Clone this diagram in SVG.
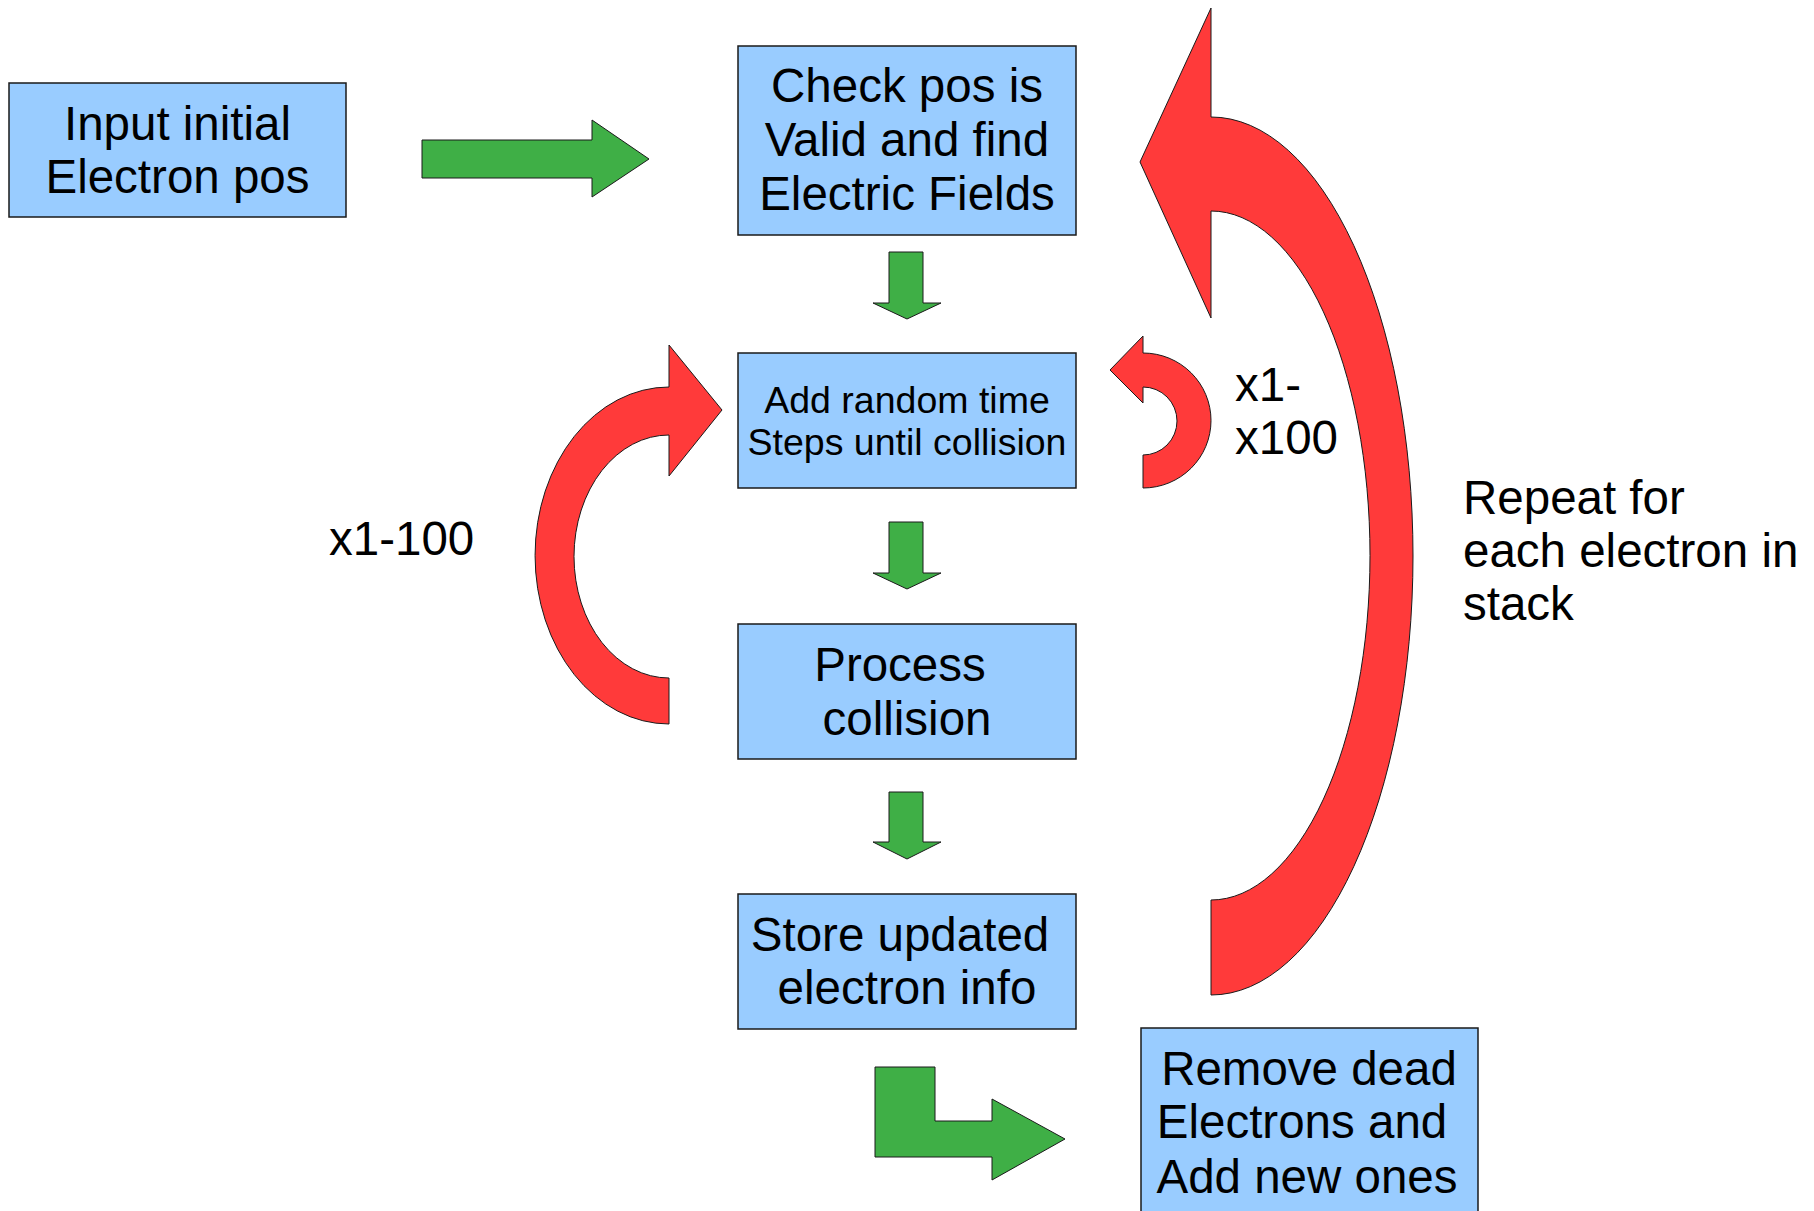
<svg xmlns="http://www.w3.org/2000/svg" width="1814" height="1211" viewBox="0 0 1814 1211">
  <style>
    .box { fill: #99ccff; stroke: #1a1a1a; stroke-width: 1.5; }
    .go { fill: #3faf46; stroke: #1a1a1a; stroke-width: 1; stroke-linejoin: miter; }
    .loop { fill: #ff3a3a; stroke: #1a1a1a; stroke-width: 1; }
    text { font-family: "Liberation Sans", Arial, sans-serif; fill: #000; }
    .big { font-size: 47.5px; }
    .mid { font-size: 37.5px; }
    .c { text-anchor: middle; }
  </style>

  <rect width="1814" height="1211" fill="#ffffff"/>

  <!-- connectors: flow arrows and loop arrows -->
  <g id="connectors">
    <path class="go" d="M422,140 L592,140 L592,120 L649,159 L592,197 L592,178 L422,178 Z"/>
    <path class="go" d="M889,252 L923,252 L923,303 L941,303 L907,319 L873,303 L889,303 Z"/>
    <path class="go" d="M889,522 L923,522 L923,573 L941,573 L907,589 L873,573 L889,573 Z"/>
    <path class="go" d="M889,792 L923,792 L923,842 L941,842 L907,859 L873,842 L889,842 Z"/>
    <path class="go" d="M875,1067 L935,1067 L935,1121 L992,1121 L992,1099 L1065,1139 L992,1180 L992,1157 L875,1157 Z"/>

    <!-- collision loop -->
    <path class="loop" d="M669,345 L722,410 L669,476 L669,435 A95 121.5 0 0 0 669,678 L669,724 A134 168.5 0 0 1 669,387 Z"/>
    <!-- time-step loop -->
    <path class="loop" d="M1143,336 L1143,353 A68 67.5 0 0 1 1143,488 L1143,455 A34 34 0 0 0 1143,387 L1143,403 L1110,370 Z"/>
    <!-- per-electron loop -->
    <path class="loop" d="M1211,8 L1211,117 A202 439 0 0 1 1211,995 L1211,900 A159 344.5 0 0 0 1211,211 L1211,318 L1140,162 Z"/>
  </g>

  <g id="input">
    <rect class="box" x="9" y="83" width="337" height="134"/>
    <text class="big c" x="177.5" y="140">Input initial</text>
    <text class="big c" x="177.5" y="193">Electron pos</text>
  </g>

  <g id="check">
    <rect class="box" x="738" y="46" width="338" height="189"/>
    <text class="big c" x="907" y="102">Check pos is</text>
    <text class="big c" x="907" y="156">Valid and find</text>
    <text class="big c" x="907" y="210">Electric Fields</text>
  </g>

  <g id="timestep">
    <rect class="box" x="738" y="353" width="338" height="135"/>
    <text class="mid c" x="907" y="413">Add random time</text>
    <text class="mid c" x="907" y="455">Steps until collision</text>
  </g>

  <g id="collision">
    <rect class="box" x="738" y="624" width="338" height="135"/>
    <text class="big c" x="900" y="681">Process</text>
    <text class="big c" x="907" y="735">collision</text>
  </g>

  <g id="store">
    <rect class="box" x="738" y="894" width="338" height="135"/>
    <text class="big c" x="900" y="951">Store updated</text>
    <text class="big c" x="907" y="1004">electron info</text>
  </g>

  <g id="cleanup">
    <rect class="box" x="1141" y="1028" width="337" height="190"/>
    <text class="big c" x="1309" y="1085">Remove dead</text>
    <text class="big c" x="1302" y="1138">Electrons and</text>
    <text class="big c" x="1307" y="1193">Add new ones</text>
  </g>

  <g id="labels">
    <text class="big" x="329" y="555">x1-100</text>
    <text class="big" x="1235" y="401">x1-</text>
    <text class="big" x="1235" y="454">x100</text>
    <text class="big" x="1463" y="514">Repeat for</text>
    <text class="big" x="1463" y="567">each electron in</text>
    <text class="big" x="1463" y="620">stack</text>
  </g>
</svg>
